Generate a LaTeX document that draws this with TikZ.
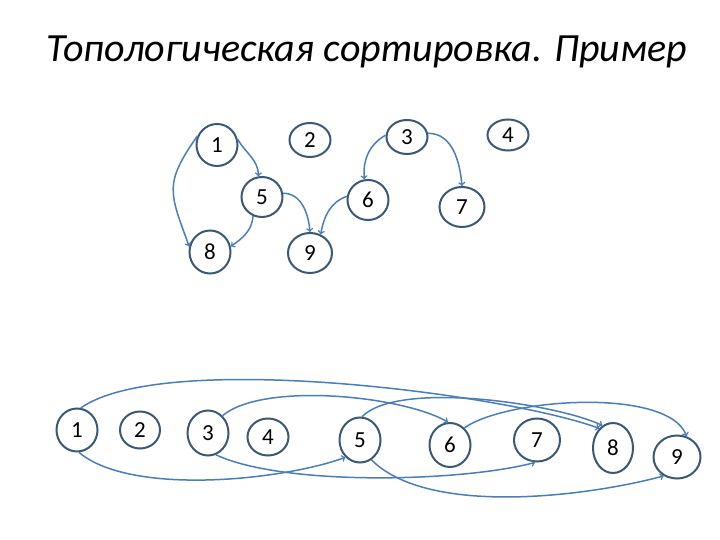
\documentclass[tikz,border=0pt]{standalone}
\usepackage{fontspec}
\setmainfont{Carlito}
\usetikzlibrary{shapes.geometric}
\begin{document}
\begin{tikzpicture}[x=1pt,y=1pt]
	\tikzstyle{vertex}=[ellipse,line width=2pt,draw=nodeline,inner sep=0pt,minimum width=41pt,minimum height=42pt,font=\fontsize{23}{23}\selectfont]
	\tikzstyle{flat}=[minimum height=34pt]
	\tikzstyle{edge}=[draw, line width=1.5pt, color=edgeline, ->]
	\definecolor{nodeline}{HTML}{3B5877}
	\definecolor{edgeline}{HTML}{4A7EBB}
	\useasboundingbox (0,0) rectangle (720,-540);
	% title
	\node (title) at (367,-52) {\fontsize{40}{40}\selectfont\itshape Топологическая сортировка. Пример};
	% source graph
	\begin{scope}
		\node [vertex] (t1) at (217,-145) {1};
		\node [vertex,flat] (t2) at (310,-140) {2};
		\node [vertex,flat] (t3) at (407,-137) {3};
		\node [vertex,flat,minimum height=31pt] (t4) at (508,-135) {4};
		\node [vertex,minimum height=40pt] (t5) at (262,-197) {5};
		\node [vertex,minimum height=40pt] (t6) at (368,-200) {6};
		\node [vertex,minimum width=45pt,minimum height=40pt] (t7) at (462,-207) {7};
		\node [vertex,minimum height=43pt] (t8) at (210,-252) {8};
		\node [vertex,minimum width=44pt,minimum height=40pt] (t9) at (310,-253) {9};
		\path[edge] (t1.155) to [out=235,in=110,looseness=1.35] (t8.165);
		\path[edge] (t1.15) to [out=-60,in=90] (t5.100);
		\path[edge] (t5.245) to [out=-95,in=35] (t8.15);
		\path[edge] (t5.10) to [out=0,in=95] (t9.90);
		\path[edge] (t6.170) to [out=200,in=80] (t9.60);
		\path[edge] (t3.175) to [out=210,in=95] (t6.100);
		\path[edge] (t3.10) to [out=0,in=95] (t7.90);
	\end{scope}
	% sorted order
	\begin{scope}
		\node [vertex,minimum height=43pt] (b1) at (77,-430) {1};
		\node [vertex,minimum width=40pt,minimum height=37pt] (b2) at (140,-430) {2};
		\node [vertex,minimum height=45pt] (b3) at (208,-433) {3};
		\node [vertex,minimum height=37pt] (b4) at (268,-437) {4};
		\node [vertex,minimum height=45pt] (b5) at (360,-440) {5};
		\node [vertex,minimum height=44pt] (b6) at (450,-445) {6};
		\node [vertex,minimum width=46pt,minimum height=43pt] (b7) at (537,-440) {7};
		\node [vertex,minimum width=40pt,minimum height=50pt] (b8) at (613,-448) {8};
		\node [vertex,minimum width=47pt,minimum height=43pt] (b9) at (677,-457) {9};
		\path[edge] (b1.80) to [out=35,in=160,looseness=0.5] (b8.125);
		\path[edge] (b1.275) to [out=-40,in=200,looseness=0.65] (b5.230);
		\path[edge] (b3.50) to [out=40,in=150,looseness=0.6] (b6.95);
		\path[edge] (b3.290) to [out=-25,in=195,looseness=0.6] (b7.265);
		\path[edge] (b5.85) to [out=45,in=155,looseness=0.55] (b8.115);
		\path[edge] (b5.300) to [out=-45,in=195,looseness=0.7] (b9.235);
		\path[edge] (b6.50) to [out=35,in=110,looseness=0.6] (b9.65);
	\end{scope}
\end{tikzpicture}
\end{document}
